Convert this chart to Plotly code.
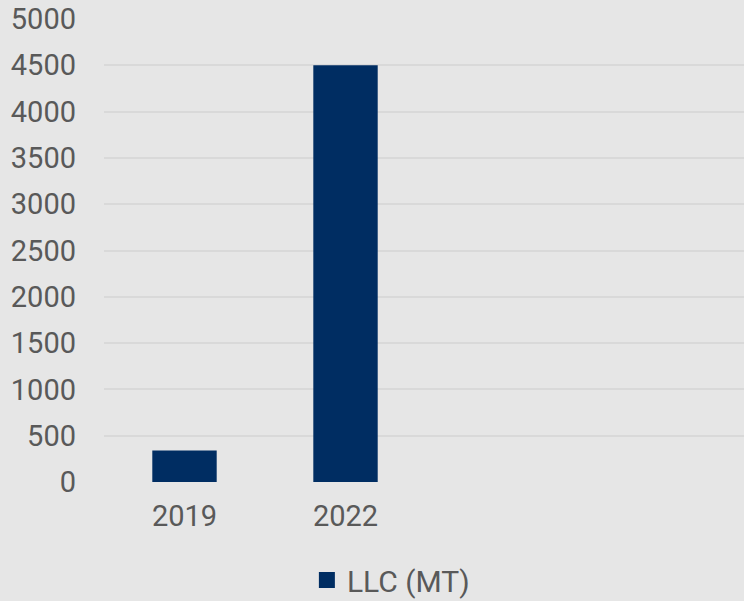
import plotly.graph_objects as go

categories = ["2019", "2022", " ", "  "]
values = [340, 4500, None, None]
series_name = "LLC (MT)"
y_ticks = [0, 500, 1000, 1500, 2000, 2500, 3000, 3500, 4000, 4500, 5000]

BG = "#e6e6e6"
GRID = "#d9d9d9"
TEXT = "#595959"
BAR = "#002d62"
FONT = "Roboto"
FS = 29

fig = go.Figure()
fig.add_trace(go.Bar(
    x=categories, y=values, name=series_name,
    marker=dict(color=BAR, line=dict(width=0)),
    width=0.4, showlegend=False,
))
# legend entry with a larger square swatch
fig.add_trace(go.Scatter(
    x=[None], y=[None], mode="markers", name=series_name,
    marker=dict(symbol="square", size=17, color=BAR), showlegend=True,
))

fig.update_layout(
    width=744, height=601,
    paper_bgcolor=BG, plot_bgcolor=BG,
    margin=dict(l=104, r=0, t=19, b=119),
    font=dict(family=FONT, size=FS, color=TEXT),
    showlegend=True,
    legend=dict(orientation="h", x=0.317, xanchor="left", xref="paper",
                y=21 / 601, yanchor="middle", yref="container",
                bgcolor="rgba(0,0,0,0)", font=dict(size=30, color=TEXT),
                itemwidth=30),
    bargap=0.6,
)
fig.update_xaxes(
    type="category", categoryorder="array", categoryarray=categories,
    range=[-0.5, 3.475], showgrid=False, zeroline=False, showline=False,
    ticks="", ticklabelstandoff=14, tickfont=dict(size=FS, color=TEXT),
)
fig.update_yaxes(
    range=[0, 5000], tickvals=y_ticks, showgrid=True, gridcolor=GRID, gridwidth=1.5,
    zeroline=False, showline=False, ticks="", ticklabelstandoff=27,
    tickfont=dict(size=FS, color=TEXT),
)

fig.write_html("out.html", config={"displayModeBar": False},
               post_script="document.body.style.margin='0px';document.body.style.background='%s';" % BG)
